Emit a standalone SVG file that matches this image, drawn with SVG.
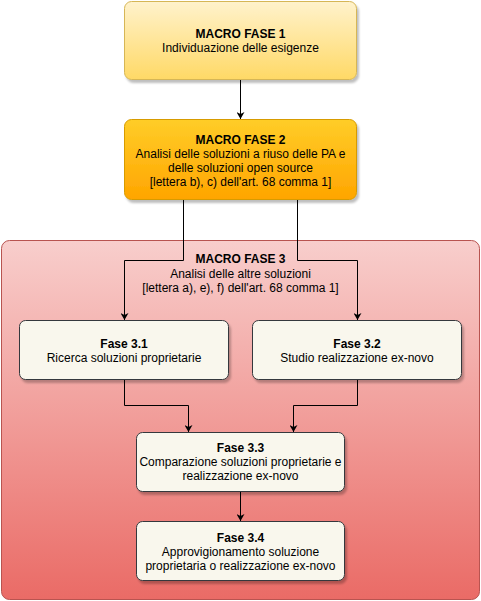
<svg xmlns="http://www.w3.org/2000/svg" width="481" height="601" viewBox="0 0 481 601">
<defs>
<linearGradient id="g1" x1="0" y1="0" x2="0" y2="1"><stop offset="0" stop-color="#fff2cc"/><stop offset="1" stop-color="#ffd966"/></linearGradient>
<linearGradient id="g2" x1="0" y1="0" x2="0" y2="1"><stop offset="0" stop-color="#ffcd28"/><stop offset="1" stop-color="#ffa500"/></linearGradient>
<linearGradient id="g3" x1="0" y1="0" x2="0" y2="1"><stop offset="0" stop-color="#f8cecc"/><stop offset="1" stop-color="#ea6b66"/></linearGradient>
<filter id="sh" x="-10%" y="-10%" width="130%" height="140%"><feDropShadow dx="2" dy="3" stdDeviation="1.2" flood-color="#000" flood-opacity="0.25"/></filter>
<marker id="ar" markerWidth="8" markerHeight="8" refX="7" refY="4" orient="auto" markerUnits="userSpaceOnUse"><path d="M0,0 L7,4 L0,8 L2,4 Z" fill="#000"/></marker>
</defs>
<style>
text{font-family:"Liberation Sans",Arial,Helvetica,sans-serif;font-size:12px;fill:#000;text-anchor:middle}
.b{font-weight:bold}
.c{fill:none;stroke:#000;stroke-width:1;marker-end:url(#ar)}
.sub{fill:#f9f7ed;stroke:#36393d;stroke-width:1}
</style>
<g id="mf3">
<rect x="1.5" y="240.5" width="478" height="359" rx="8" fill="url(#g3)" stroke="#b85450"/>
<text x="240.5" y="263" class="b">MACRO FASE 3</text>
<text x="240.5" y="277.5">Analisi delle altre soluzioni</text>
<text x="240.5" y="291.5">[lettera a), e), f) dell'art. 68 comma 1]</text>
</g>
<g id="mf1">
<rect x="124.5" y="1.5" width="232" height="78" rx="7" fill="url(#g1)" stroke="#d6b656" filter="url(#sh)"/>
<text x="240.5" y="37.5" class="b">MACRO FASE 1</text>
<text x="240.5" y="51.5">Individuazione delle esigenze</text>
</g>
<g id="mf2">
<rect x="124.5" y="119.5" width="232" height="80" rx="7" fill="url(#g2)" stroke="#d79b00" filter="url(#sh)"/>
<text x="240.5" y="143.5" class="b">MACRO FASE 2</text>
<text x="240.5" y="157.5">Analisi delle soluzioni a riuso delle PA e</text>
<text x="240.5" y="171.5">delle soluzioni open source</text>
<text x="240.5" y="185.5">[lettera b), c) dell'art. 68 comma 1]</text>
</g>
<g id="f31">
<rect x="19.5" y="320.5" width="209" height="59" rx="6" class="sub" filter="url(#sh)"/>
<text x="124" y="347.5" class="b">Fase 3.1</text>
<text x="124" y="361.5">Ricerca soluzioni proprietarie</text>
</g>
<g id="f32">
<rect x="252.5" y="320.5" width="209" height="59" rx="6" class="sub" filter="url(#sh)"/>
<text x="357" y="347.5" class="b">Fase 3.2</text>
<text x="357" y="361.5">Studio realizzazione ex-novo</text>
</g>
<g id="f33">
<rect x="136.5" y="432.5" width="208" height="59" rx="6" class="sub" filter="url(#sh)"/>
<text x="240.5" y="451.5" class="b">Fase 3.3</text>
<text x="240.5" y="465.5">Comparazione soluzioni proprietarie e</text>
<text x="240.5" y="479.5">realizzazione ex-novo</text>
</g>
<g id="f34">
<rect x="136.5" y="521.5" width="208" height="59" rx="6" class="sub" filter="url(#sh)"/>
<text x="240.5" y="541.5" class="b">Fase 3.4</text>
<text x="240.5" y="555.5">Approvigionamento soluzione</text>
<text x="240.5" y="569.5">proprietaria o realizzazione ex-novo</text>
</g>
<g id="connectors">
<path class="c" d="M240.5,80 V119"/>
<path class="c" d="M183.5,200 V260.5 H124.5 V320"/>
<path class="c" d="M297.5,200 V260.5 H357.5 V320"/>
<path class="c" d="M124.5,380 V405.5 H188.5 V432"/>
<path class="c" d="M357.5,380 V405.5 H293.5 V432"/>
<path class="c" d="M240.5,492 V521"/>
</g>
</svg>
